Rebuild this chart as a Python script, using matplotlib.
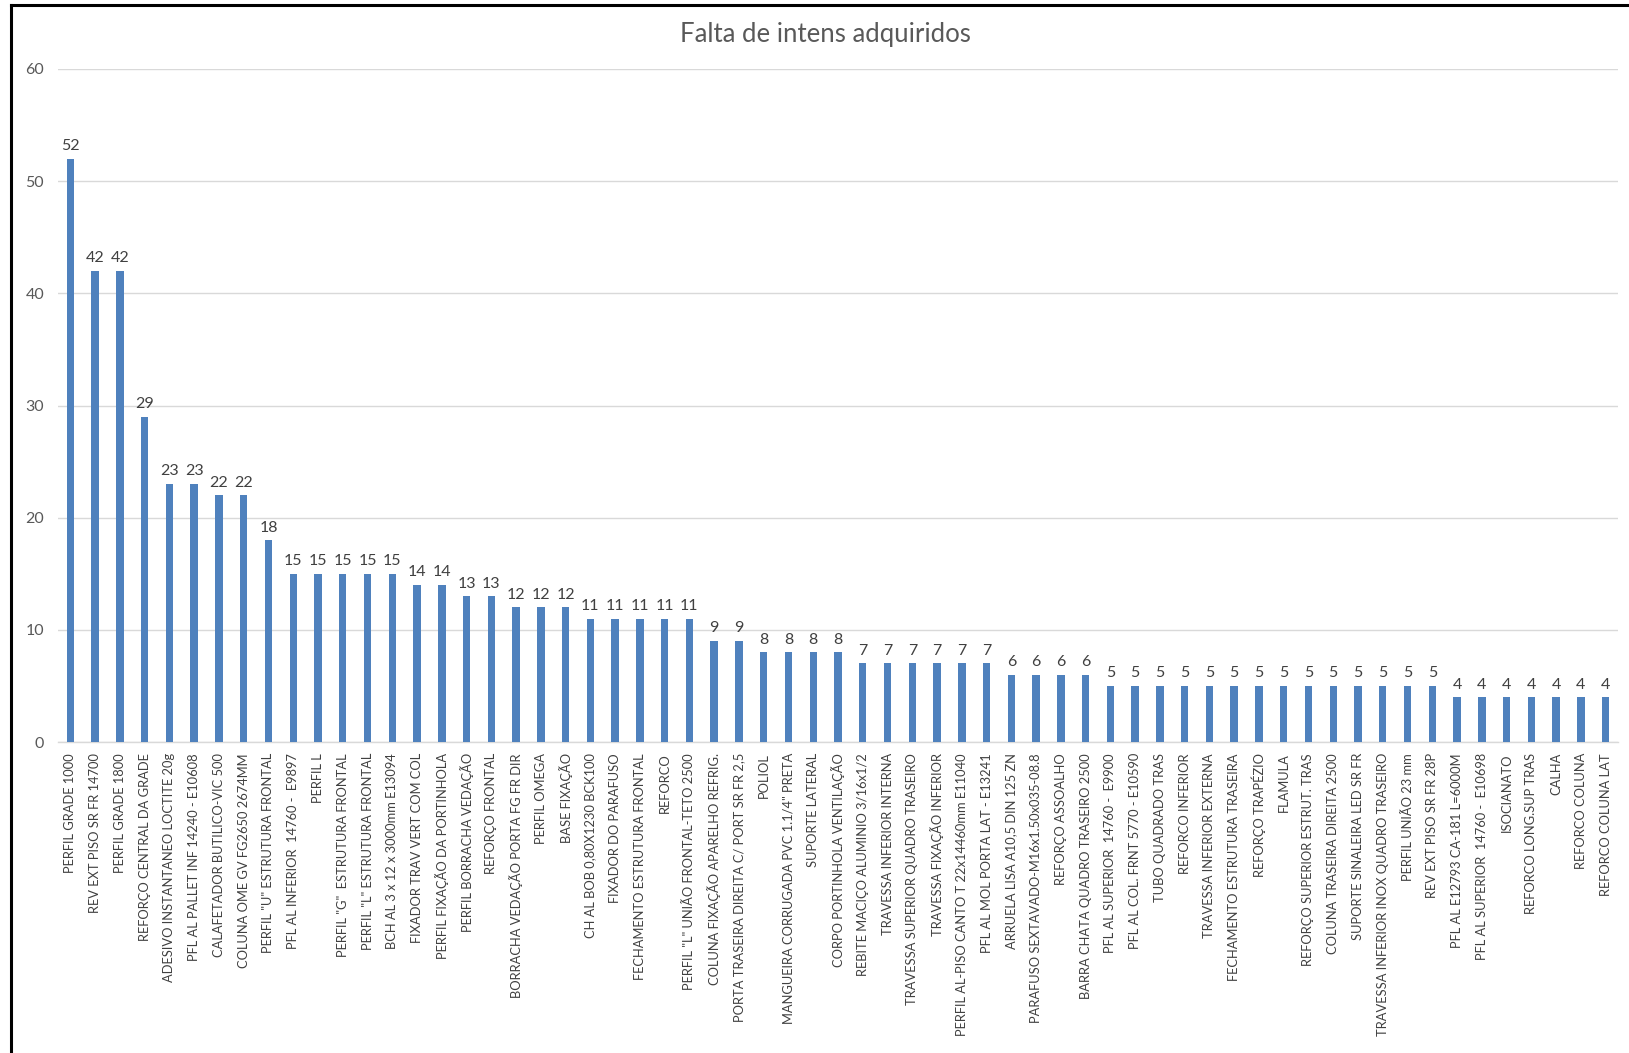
import matplotlib
matplotlib.use("Agg")
import matplotlib.pyplot as plt
from matplotlib.lines import Line2D

plt.rcParams['font.family'] = ['Lato', 'DejaVu Sans']

title = "Falta de intens adquiridos"

items = [
    "PERFIL GRADE 1000",
    "REV EXT PISO SR FR 14700",
    "PERFIL GRADE 1800",
    "REFORÇO CENTRAL DA GRADE",
    "ADESIVO INSTANTANEO LOCTITE 20g",
    "PFL AL PALLET INF 14240 - E10608",
    "CALAFETADOR BUTILICO-VIC 500",
    "COLUNA OME GV FG2650 2674MM",
    "PERFIL \"U\" ESTRUTURA FRONTAL",
    "PFL AL INFERIOR  14760 -  E9897",
    "PERFIL L",
    "PERFIL \"G\"  ESTRUTURA FRONTAL",
    "PERFIL \"L\" ESTRUTURA FRONTAL",
    "BCH AL 3 x 12 x 3000mm E13094",
    "FIXADOR TRAV VERT COM COL",
    "PERFIL FIXAÇÃO DA PORTINHOLA",
    "PERFIL BORRACHA VEDAÇÃO",
    "REFORÇO FRONTAL",
    "BORRACHA VEDAÇÃO PORTA FG FR DIR",
    "PERFIL OMEGA",
    "BASE FIXAÇÃO",
    "CH AL BOB 0,80X1230 BCK100",
    "FIXADOR DO PARAFUSO",
    "FECHAMENTO ESTRUTURA FRONTAL",
    "REFORCO",
    "PERFIL \"L\" UNIÃO FRONTAL-TETO 2500",
    "COLUNA FIXAÇÃO APARELHO REFRIG.",
    "PORTA TRASEIRA DIREITA C/ PORT SR FR 2,5",
    "POLIOL",
    "MANGUEIRA CORRUGADA PVC 1.1/4\" PRETA",
    "SUPORTE LATERAL",
    "CORPO PORTINHOLA VENTILAÇÃO",
    "REBITE MACIÇO ALUMINIO 3/16x1/2",
    "TRAVESSA INFERIOR INTERNA",
    "TRAVESSA SUPERIOR QUADRO TRASEIRO",
    "TRAVESSA FIXAÇÃO INFERIOR",
    "PERFIL AL-PISO CANTO T 22x14460mm E11040",
    "PFL AL MOL PORTA LAT - E13241",
    "ARRUELA LISA A10,5 DIN 125 ZN",
    "PARAFUSO SEXTAVADO-M16x1.50x035-08.8",
    "REFORÇO ASSOALHO",
    "BARRA CHATA QUADRO TRASEIRO 2500",
    "PFL AL SUPERIOR  14760 -  E9900",
    "PFL AL COL. FRNT 5770 - E10590",
    "TUBO QUADRADO TRAS",
    "REFORCO INFERIOR",
    "TRAVESSA INFERIOR EXTERNA",
    "FECHAMENTO ESTRUTURA TRASEIRA",
    "REFORÇO TRAPÉZIO",
    "FLAMULA",
    "REFORÇO SUPERIOR ESTRUT. TRAS",
    "COLUNA TRASEIRA DIREITA 2500",
    "SUPORTE SINALEIRA LED SR FR",
    "TRAVESSA INFERIOR INOX QUADRO TRASEIRO",
    "PERFIL UNIÃO 23 mm",
    "REV EXT PISO SR FR 28P",
    "PFL AL E12793 CA-181 L=6000M",
    "PFL AL SUPERIOR  14760 -  E10698",
    "ISOCIANATO",
    "REFORCO LONG.SUP TRAS",
    "CALHA",
    "REFORCO COLUNA",
    "REFORCO COLUNA LAT",
]

quantities = [
    52, 42, 42, 29, 23, 23, 22, 22, 18,
    15, 15, 15, 15, 15,
    14, 14, 13, 13,
    12, 12, 12,
    11, 11, 11, 11, 11,
    9, 9,
    8, 8, 8, 8,
    7, 7, 7, 7, 7, 7,
    6, 6, 6, 6,
    5, 5, 5, 5, 5, 5, 5, 5, 5, 5, 5, 5, 5, 5,
    4, 4, 4, 4, 4, 4, 4,
]

y_ticks = [0, 10, 20, 30, 40, 50, 60]

W, H = 1629, 1053
fig = plt.figure(figsize=(W / 100, H / 100), dpi=100)
fig.patch.set_facecolor("white")

ax = fig.add_axes([58 / W, 1 - 742 / H, (1618 - 58) / W, (742 - 69) / H])

x = list(range(len(items)))
ax.bar(x, quantities, width=0.3, color="#4F81BD", zorder=3)

ax.set_xlim(-0.5, len(items) - 0.5)
ax.set_ylim(0, 60)
ax.set_yticks(y_ticks)
ax.set_yticklabels([str(v) for v in y_ticks])
ax.yaxis.grid(True, color="#D9D9D9", linewidth=1.0, zorder=0)
ax.set_axisbelow(True)

for side in ("top", "right", "left"):
    ax.spines[side].set_visible(False)
ax.spines["bottom"].set_color("#D9D9D9")
ax.spines["bottom"].set_linewidth(1.0)

ax.tick_params(axis="y", length=0, pad=10, labelsize=11.5, labelcolor="#595959")
ax.tick_params(axis="x", length=0, pad=8)
ax.set_xticks(x)
ax.set_xticklabels(items, rotation=90, fontsize=9.3, color="#404040",
                   ha="center", va="top")

for xi, v in zip(x, quantities):
    ax.annotate(str(v), (xi, v), xytext=(0, 4), textcoords="offset points",
                ha="center", va="bottom", fontsize=11.5, color="#404040")

fig.text(825 / W, 1 - 34 / H, title, ha="center", va="center",
         fontsize=18.5, color="#595959")

# outer frame (top and left edges)
fig.add_artist(Line2D([10.5 / W, 1.0], [1 - 4.5 / H, 1 - 4.5 / H],
                      transform=fig.transFigure, color="black", linewidth=2.2))
fig.add_artist(Line2D([10.5 / W, 10.5 / W], [0.0, 1 - 4.5 / H],
                      transform=fig.transFigure, color="black", linewidth=2.2))

fig.savefig("out.png", dpi=100, facecolor="white")
